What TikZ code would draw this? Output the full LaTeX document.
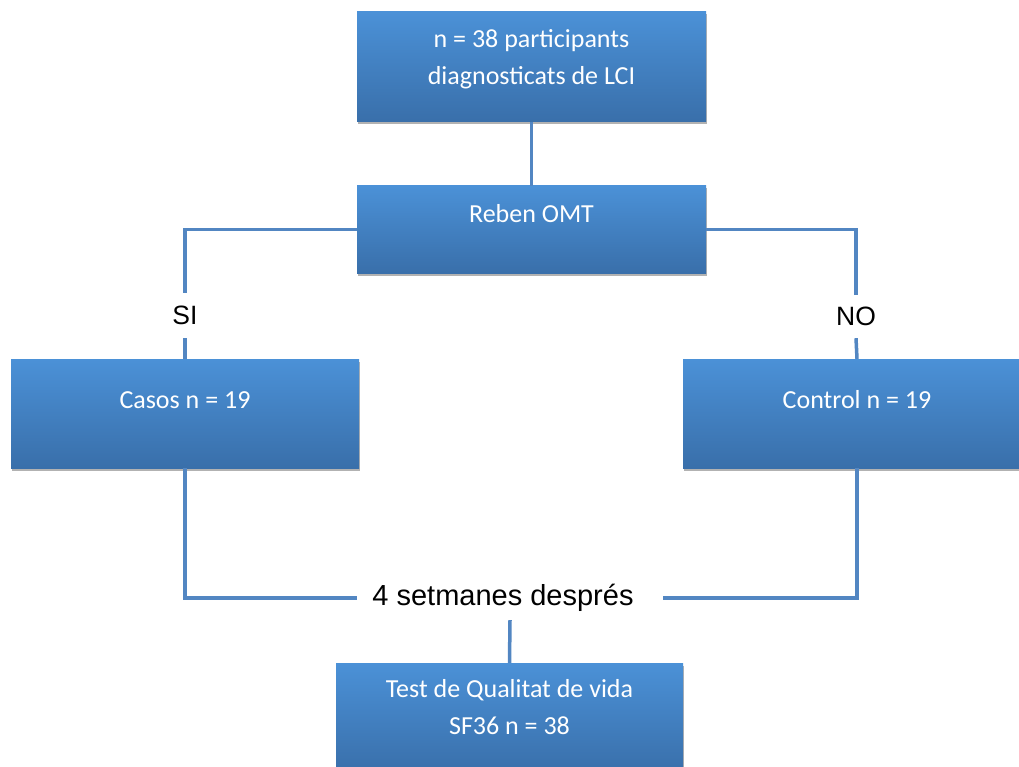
\documentclass[tikz,border=0pt]{standalone}
\usepackage{fontspec}
\setmainfont{Carlito}
\newfontfamily\arialfont{Liberation Sans}
\usetikzlibrary{shadows,calc}
\definecolor{boxtop}{RGB}{75,145,215}
\definecolor{boxbot}{RGB}{57,111,170}
\definecolor{linkblue}{RGB}{82,134,194}
\tikzset{
  flowbox/.style={rectangle, inner sep=0pt, draw=none,
    top color=boxtop, bottom color=boxbot,
    drop shadow={shadow xshift=0.8pt, shadow yshift=-2.5pt, opacity=0.3, fill=black}},
  boxtext/.style={inner sep=0pt, text=white, align=center,
    font=\fontsize{26}{37}\selectfont},
  branchlabel/.style={inner xsep=0pt, inner ysep=0pt, text=black,
    font=\arialfont\fontsize{26.5}{30}\selectfont},
  link/.style={draw=linkblue, line width=3.5pt, line join=miter},
}
\begin{document}
\begin{tikzpicture}[x=1pt, y=-1pt]
\clip (0,0) rectangle (1019,767);
\fill[white] (0,0) rectangle (1019,767);

% boxes
\node[flowbox, minimum width=349, minimum height=110] (top) at (531.5,67) {};
\node[flowbox, minimum width=349, minimum height=87] (reben) at (531.5,229.5) {};
\node[flowbox, minimum width=348, minimum height=109] (casos) at (185,413.5) {};
\node[flowbox, minimum width=348, minimum height=109] (control) at (857,413.5) {};
\node[flowbox, minimum width=347, minimum height=110] (test) at (509.5,718) {};

% box texts
\node[boxtext, anchor=north] (toptxt) at ($(top.north)+(0,18)$) {n = 38 participants\\diagnosticats de LCI};
\node[boxtext, anchor=base] (rebentxt) at ($(reben.north)+(0,37)$) {Reben OMT};
\node[boxtext, anchor=base] (casostxt) at ($(casos.north)+(0,50)$) {Casos n = 19};
\node[boxtext, anchor=base] (controltxt) at ($(control.north)+(0,50)$) {Control n = 19};
\node[boxtext, anchor=north] (testtxt) at ($(test.north)+(0,16)$) {Test de Qualitat de vida\\SF36 n = 38};

% branch labels
\node[branchlabel, minimum height=45] (si) at (185,315.5) {SI};
\node[branchlabel, minimum height=43] (no) at (856,316.5) {NO};
\node[branchlabel, inner xsep=15pt, minimum height=44,
      font=\arialfont\fontsize{29}{33}\selectfont] (after) at (510,598) {4 setmanes després\kern14pt};

% connectors
\draw[link] (top.south) -- (reben.north);
\draw[link] (reben.west) -| (si.north);
\draw[link] (si.south) -- (casos.north);
\draw[link] (reben.east) -| (no.north);
\draw[link] (no.south) -- (control.north);
\draw[link] (casos.south) |- (after.west);
\draw[link] (control.south) |- (after.east);
\draw[link] (after.south) -- (test.north);
\end{tikzpicture}
\end{document}
